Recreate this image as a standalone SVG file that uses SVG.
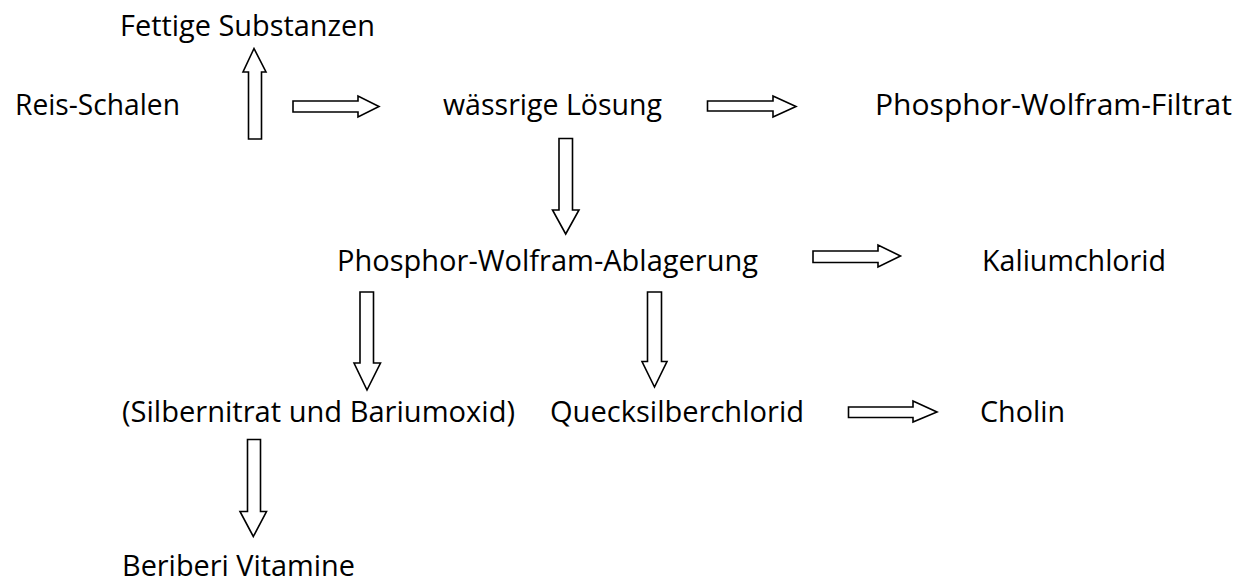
<svg xmlns="http://www.w3.org/2000/svg" width="1241" height="582" viewBox="0 0 1241 582">
  <style>
    .lbl { font-family: "Open Sans", "Noto Sans", sans-serif; font-size: 29px; fill: #000; }
    .arr { fill: #fff; stroke: #000; stroke-width: 1.6; stroke-linejoin: miter; }
  </style>
  <rect width="1241" height="582" fill="#fff"/>

  <g id="nodes">
    <g id="fettige"><text class="lbl" x="120" y="36" textLength="255" lengthAdjust="spacingAndGlyphs">Fettige Substanzen</text></g>
    <g id="reis"><text class="lbl" x="15" y="115" textLength="165" lengthAdjust="spacingAndGlyphs">Reis-Schalen</text></g>
    <g id="loesung"><text class="lbl" x="443" y="115" textLength="219" lengthAdjust="spacingAndGlyphs">wässrige Lösung</text></g>
    <g id="filtrat"><text class="lbl" x="875" y="115" textLength="357" lengthAdjust="spacingAndGlyphs">Phosphor-Wolfram-Filtrat</text></g>
    <g id="ablagerung"><text class="lbl" x="337" y="271" textLength="421" lengthAdjust="spacingAndGlyphs">Phosphor-Wolfram-Ablagerung</text></g>
    <g id="kalium"><text class="lbl" x="982" y="271" textLength="184" lengthAdjust="spacingAndGlyphs">Kaliumchlorid</text></g>
    <g id="silber"><text class="lbl" x="122" y="422" textLength="393" lengthAdjust="spacingAndGlyphs">(Silbernitrat und Bariumoxid)</text></g>
    <g id="quecksilber"><text class="lbl" x="550" y="422" textLength="254" lengthAdjust="spacingAndGlyphs">Quecksilberchlorid</text></g>
    <g id="cholin"><text class="lbl" x="980" y="422" textLength="85" lengthAdjust="spacingAndGlyphs">Cholin</text></g>
    <g id="beriberi"><text class="lbl" x="122" y="576" textLength="233" lengthAdjust="spacingAndGlyphs">Beriberi Vitamine</text></g>
  </g>

  <g id="connectors">
    <!-- up: Reis-Schalen to Fettige Substanzen -->
    <polygon class="arr" points="248.5,139 261.5,139 261.5,72 266,72 254,48.5 243,72 248.5,72"/>
    <!-- right: Reis-Schalen to wässrige Lösung -->
    <polygon class="arr" points="293,101 358,101 358,96 379,106.5 358,117 358,112 293,112"/>
    <!-- right: wässrige Lösung to Filtrat -->
    <polygon class="arr" points="707.5,101 773,101 773,96 796,106.5 773,117 773,111 707.5,111"/>
    <!-- down: wässrige Lösung to Ablagerung -->
    <polygon class="arr" points="559,138.5 572.5,138.5 572.5,210 579,210 565.7,234 552.5,210 559,210"/>
    <!-- right: Ablagerung to Kaliumchlorid -->
    <polygon class="arr" points="813,251 878,251 878,245 900.5,256 878,267 878,262.5 813,262.5"/>
    <!-- down: Ablagerung to Silbernitrat -->
    <polygon class="arr" points="360,292 373.5,292 373.5,363 380.5,363 367,390 354,363 360,363"/>
    <!-- down: Ablagerung to Quecksilberchlorid -->
    <polygon class="arr" points="647.5,292 661.5,292 661.5,361.5 667,361.5 654.5,387 642,361.5 647.5,361.5"/>
    <!-- right: Quecksilberchlorid to Cholin -->
    <polygon class="arr" points="848.5,407 913,407 913,401 937,412 913,422 913,417.5 848.5,417.5"/>
    <!-- down: Silbernitrat to Beriberi Vitamine -->
    <polygon class="arr" points="247.5,439.5 260.5,439.5 260.5,511.5 266.5,511.5 253.3,536.5 240,511.5 247.5,511.5"/>
  </g>
</svg>
